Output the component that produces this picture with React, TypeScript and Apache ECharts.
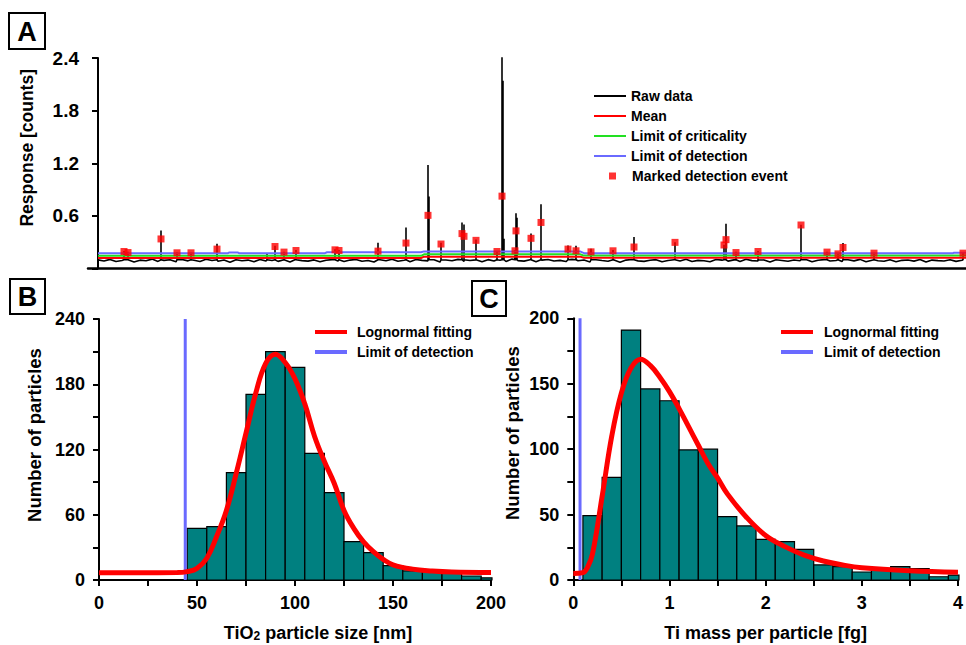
import React, { useEffect, useRef } from 'react';
import * as echarts from 'echarts';

const FONT = '"Liberation Sans", Arial, Helvetica, sans-serif';

// ---------- Panel A: time trace ----------
const rawNoise = [
  0.098, 0.085, 0.104, 0.079, 0.092, 0.101, 0.074, 0.095, 0.088, 0.107,
  0.081, 0.093, 0.099, 0.076, 0.102, 0.087, 0.094, 0.080, 0.106, 0.091,
  0.083, 0.097, 0.072, 0.100, 0.089, 0.096, 0.078, 0.103, 0.086, 0.092,
  0.081, 0.099, 0.075, 0.105, 0.090, 0.084, 0.098, 0.077, 0.094, 0.101,
  0.086, 0.079, 0.096, 0.103, 0.082, 0.091, 0.074, 0.099, 0.088, 0.106,
  0.083, 0.095, 0.078, 0.102, 0.093, 0.087, 0.100, 0.073, 0.097, 0.089,
  0.104, 0.081, 0.092, 0.098, 0.076, 0.101, 0.085, 0.094, 0.080, 0.107,
  0.090, 0.084, 0.099, 0.077, 0.095, 0.102, 0.086, 0.093, 0.079, 0.104,
  0.088, 0.097, 0.075, 0.100, 0.091, 0.083, 0.098, 0.072, 0.096, 0.103,
  0.087, 0.081, 0.094, 0.101, 0.078, 0.092, 0.099, 0.085, 0.105, 0.080,
  0.093, 0.089, 0.076, 0.102, 0.095, 0.084, 0.098, 0.079, 0.106, 0.090,
  0.086, 0.097, 0.074, 0.100, 0.092, 0.082, 0.096, 0.088, 0.103, 0.077,
  0.094, 0.101, 0.085, 0.091, 0.080, 0.099, 0.087, 0.104, 0.076, 0.095,
  0.089, 0.083, 0.100, 0.078, 0.093, 0.097, 0.084, 0.102, 0.073, 0.096,
  0.090, 0.086, 0.099, 0.081, 0.094, 0.088, 0.101, 0.079, 0.097, 0.092,
];
const rawStep = 6;
const rawEnd = 868;
const spikeBase = 0.1;
const spikeT = [26, 30, 63, 79, 93, 119, 169, 177, 186, 198, 237, 241, 280, 308, 330, 331, 343, 364, 366, 378, 399, 404, 405, 406, 417, 418, 419, 433, 443, 470, 478, 493, 515, 536, 577, 626, 628, 638, 660, 703, 729, 740, 745, 776, 865];
const spikePeak = [0.2, 0.19, 0.433, 0.185, 0.18, 0.283, 0.17, 0.26, 0.19, 0.21, 0.22, 0.21, 0.294, 0.467, 1.18, 0.82, 0.294, 0.525, 0.502, 0.33, 0.2, 2.416, 2.14, 0.34, 0.21, 0.629, 0.58, 0.398, 0.732, 0.263, 0.26, 0.225, 0.21, 0.36, 0.3, 0.27, 0.51, 0.19, 0.2, 0.5, 0.19, 0.17, 0.29, 0.18, 0.18];
const eventT = [26, 30, 63, 79, 93, 119, 177, 186, 198, 237, 241, 280, 308, 330, 343, 364, 366, 378, 399, 404, 417, 418, 433, 443, 470, 478, 493, 515, 536, 577, 626, 628, 638, 660, 703, 729, 740, 745, 776, 865];
const eventV = [0.194, 0.182, 0.337, 0.179, 0.179, 0.221, 0.251, 0.187, 0.205, 0.213, 0.205, 0.198, 0.29, 0.606, 0.279, 0.398, 0.367, 0.321, 0.194, 0.825, 0.202, 0.429, 0.344, 0.525, 0.221, 0.202, 0.19, 0.202, 0.245, 0.298, 0.268, 0.329, 0.182, 0.194, 0.496, 0.187, 0.167, 0.24, 0.175, 0.175];
const meanT = [0, 323, 326, 482, 486, 868];
const meanV = [0.12, 0.12, 0.135, 0.135, 0.122, 0.122];
const lcT = [0, 323, 326, 482, 486, 868];
const lcV = [0.145, 0.145, 0.162, 0.162, 0.147, 0.147];
const ldT = [0, 130, 131, 140, 141, 227, 229, 323, 326, 482, 486, 855, 856, 868];
const ldV = [0.175, 0.175, 0.182, 0.182, 0.175, 0.175, 0.185, 0.185, 0.195, 0.195, 0.175, 0.175, 0.18, 0.18];

// ---------- Panel B: particle size histogram ----------
const sizeBinStart = [45, 55, 65, 75, 85, 95, 105, 115, 125, 135, 145, 155, 165, 175, 185, 195];
const sizeBinWidth = 10;
const sizeCounts = [47.5, 49, 98.7, 170.7, 210, 195.6, 116.5, 80.3, 35.2, 25.1, 13.2, 8.3, 7.7, 6, 3.7, 2];
const sizeFitX = [0, 20, 40, 45, 50, 55, 60, 65, 70, 75, 80, 85, 90, 95, 100, 105, 110, 115, 120, 125, 130, 135, 140, 145, 150, 160, 170, 180, 200];
const sizeFitY = [6.7, 6.7, 6.8, 7.7, 10.7, 20, 40, 64, 98, 135, 172, 199, 207.5, 200, 185, 162, 132, 109, 89, 64, 47.5, 35, 26, 19, 14, 10, 8.3, 7.4, 7];
const sizeLOD = 44;

// ---------- Panel C: Ti mass histogram ----------
const massBinStart = [0.1, 0.3, 0.5, 0.7, 0.9, 1.1, 1.3, 1.5, 1.7, 1.9, 2.1, 2.3, 2.5, 2.7, 2.9, 3.1, 3.3, 3.5, 3.7, 3.9];
const massBinWidth = 0.2;
const massCounts = [49.2, 78.5, 191, 146, 137, 99.4, 100, 48.4, 41.3, 31, 29.3, 23.4, 11.5, 10.2, 6.1, 7.6, 10.2, 8.7, 2.5, 3.8];
const massFitX = [0, 0.1, 0.15, 0.2, 0.3, 0.4, 0.5, 0.6, 0.7, 0.8, 0.9, 1.0, 1.1, 1.2, 1.3, 1.4, 1.5, 1.6, 1.8, 2.0, 2.2, 2.4, 2.6, 2.8, 3.0, 3.5, 4.0];
const massFitY = [5, 5.6, 10, 20, 64, 110, 143, 162, 168.7, 164, 155, 144, 131, 117, 103, 89, 78, 66, 48, 34, 25.5, 19, 14.5, 11.5, 9.4, 7.1, 5.9];
const massLOD = 0.07;

const BLUE = '#6a6aff';
const RED = '#ff0000';
const GREEN = '#22e022';

function buildRaw() {
  const groups: { t: number; pts: number[][] }[] = [];
  rawNoise.forEach((v, i) => {
    const t = i * rawStep;
    if (t <= rawEnd) groups.push({ t, pts: [[t, v]] });
  });
  spikeT.forEach((t, i) => {
    groups.push({ t, pts: [[t, spikeBase], [t, spikePeak[i]], [t, spikeBase]] });
  });
  groups.sort((a, b) => a.t - b.t);
  const out: number[][] = [];
  groups.forEach((g) => g.pts.forEach((p) => out.push(p)));
  return out;
}

const pairs = (xs: number[], ys: number[]) => xs.map((x, i) => [x, ys[i]]);

const histRender = (params: any, api: any) => {
  const start = api.value(0);
  const end = api.value(1);
  const count = api.value(2);
  const tl = api.coord([start, count]);
  const br = api.coord([end, 0]);
  const cs = params.coordSys;
  const rect = echarts.graphic.clipRectByRect(
    { x: tl[0], y: tl[1], width: br[0] - tl[0], height: br[1] - tl[1] },
    { x: cs.x, y: cs.y, width: cs.width + 1, height: cs.height }
  );
  if (!rect) return null;
  return {
    type: 'rect',
    shape: rect,
    style: { fill: '#008080', stroke: '#000', lineWidth: 1.2 },
  };
};

const axisLineStyle = { color: '#000', width: 2 };
const labelStyle = { color: '#000', fontSize: 18, fontWeight: 'bold' as const, fontFamily: FONT };
const nameStyleBase = { color: '#000', fontSize: 18, fontWeight: 'bold' as const, fontFamily: FONT };
const legendText = { color: '#000', fontSize: 14, fontWeight: 'bold' as const, fontFamily: FONT, lineHeight: 20 };

function histAxes(gridIndex: number, max: number, interval: number) {
  return {
    gridIndex,
    type: 'value',
    min: 0,
    max,
    interval,
    axisLine: { show: true, lineStyle: axisLineStyle },
    axisTick: { show: true, length: 6, lineStyle: { color: '#000', width: 2 } },
    minorTick: { show: true, splitNumber: 2, length: 6, lineStyle: { color: '#000', width: 2 } },
    splitLine: { show: false },
    axisLabel: { ...labelStyle, margin: 14 },
  };
}

export default function App() {
  const ref = useRef<HTMLDivElement>(null);
  useEffect(() => {
    if (!ref.current) return;
    const chart = echarts.init(ref.current, undefined, { renderer: 'svg' });
    const option: any = {
      animation: false,
      backgroundColor: '#fff',
      textStyle: { fontFamily: FONT },
      grid: [
        { left: 88, top: 58, width: 878, height: 210.5, containLabel: false },
        { left: 99, top: 319, width: 392, height: 261, containLabel: false },
        { left: 573.3, top: 318.3, width: 391.6, height: 261.7, containLabel: false },
      ],
      xAxis: [
        {
          gridIndex: 0,
          type: 'value',
          min: -10,
          max: rawEnd,
          axisLine: { show: true, lineStyle: { color: '#000', width: 2.5 } },
          axisTick: { show: false },
          axisLabel: { show: false },
          splitLine: { show: false },
        },
        {
          ...histAxes(1, 200, 50),
          name: 'TiO{sub|2} particle size [nm]',
          nameLocation: 'middle',
          nameGap: 44,
          nameTextStyle: {
            ...nameStyleBase,
            padding: [0, 0, 0, 46],
            rich: {
              sub: { fontSize: 12, fontWeight: 'bold', color: '#000', fontFamily: FONT, verticalAlign: 'bottom' },
            },
          },
        },
        {
          ...histAxes(2, 4, 1),
          name: 'Ti mass per particle [fg]',
          nameLocation: 'middle',
          nameGap: 44,
          nameTextStyle: { ...nameStyleBase },
        },
      ],
      yAxis: [
        {
          gridIndex: 0,
          type: 'value',
          min: 0,
          max: 2.4,
          interval: 0.6,
          axisLine: { show: true, onZero: true, lineStyle: axisLineStyle },
          axisTick: { show: true, length: 6, lineStyle: { color: '#000', width: 2 } },
          splitLine: { show: false },
          axisLabel: {
            ...labelStyle,
            fontSize: 19,
            margin: 9,
            formatter: (v: number) => (v === 0 ? '' : v.toFixed(1)),
          },
          name: 'Response [counts]',
          nameLocation: 'middle',
          nameGap: 52,
          nameTextStyle: { ...nameStyleBase, fontSize: 17.5, padding: [0, 0, 0, 31] },
        },
        {
          ...histAxes(1, 240, 60),
          axisLabel: { ...labelStyle, margin: 14 },
          name: 'Number of particles',
          nameLocation: 'middle',
          nameGap: 55,
          nameTextStyle: { ...nameStyleBase, fontSize: 18.5, padding: [0, 0, 0, 29] },
        },
        {
          ...histAxes(2, 200, 50),
          axisLabel: { ...labelStyle, margin: 14 },
          name: 'Number of particles',
          nameLocation: 'middle',
          nameGap: 51,
          nameTextStyle: { ...nameStyleBase, fontSize: 18.5, padding: [0, 0, 0, 32] },
        },
      ],
      legend: [
        {
          data: ['Raw data', 'Mean', 'Limit of criticality', 'Limit of detection'],
          orient: 'vertical',
          left: 594,
          top: 86,
          padding: 0,
          itemGap: 0,
          itemWidth: 32,
          itemHeight: 2,
          icon: 'rect',
          selectedMode: false,
          textStyle: legendText,
        },
        {
          data: ['Marked detection event'],
          orient: 'vertical',
          left: 609,
          top: 166,
          padding: 0,
          itemGap: 0,
          itemWidth: 7,
          itemHeight: 7,
          icon: 'rect',
          selectedMode: false,
          textStyle: { ...legendText, padding: [0, 0, 0, 11] },
        },
        {
          data: ['Lognormal fitting', 'Limit of detection'],
          orient: 'vertical',
          left: 315,
          top: 322,
          padding: 0,
          itemGap: 0,
          itemWidth: 32,
          itemHeight: 4,
          icon: 'rect',
          selectedMode: false,
          textStyle: { ...legendText, padding: [0, 0, 0, 5] },
        },
        {
          data: ['Lognormal fitting', 'Limit of detection'],
          orient: 'vertical',
          left: 781,
          top: 322,
          padding: 0,
          itemGap: 0,
          itemWidth: 32,
          itemHeight: 4,
          icon: 'rect',
          selectedMode: false,
          textStyle: { ...legendText, padding: [0, 0, 0, 6] },
        },
      ],
      series: [
        {
          name: 'Raw data',
          type: 'line',
          xAxisIndex: 0,
          yAxisIndex: 0,
          data: buildRaw(),
          symbol: 'none',
          color: '#000',
          lineStyle: { color: '#000', width: 1.6 },
          z: 2,
        },
        {
          name: 'Mean',
          type: 'line',
          xAxisIndex: 0,
          yAxisIndex: 0,
          data: pairs(meanT, meanV),
          symbol: 'none',
          color: RED,
          lineStyle: { color: RED, width: 2 },
          z: 3,
        },
        {
          name: 'Limit of criticality',
          type: 'line',
          xAxisIndex: 0,
          yAxisIndex: 0,
          data: pairs(lcT, lcV),
          symbol: 'none',
          color: GREEN,
          lineStyle: { color: GREEN, width: 2 },
          z: 3,
        },
        {
          name: 'Limit of detection',
          type: 'line',
          xAxisIndex: 0,
          yAxisIndex: 0,
          data: pairs(ldT, ldV),
          symbol: 'none',
          color: BLUE,
          lineStyle: { color: BLUE, width: 2 },
          z: 3,
        },
        {
          name: 'Marked detection event',
          type: 'scatter',
          xAxisIndex: 0,
          yAxisIndex: 0,
          data: pairs(eventT, eventV),
          symbol: 'rect',
          symbolSize: 7,
          color: RED,
          itemStyle: { color: RED },
          z: 4,
        },
        // Panel B
        {
          name: 'Size histogram',
          type: 'custom',
          xAxisIndex: 1,
          yAxisIndex: 1,
          renderItem: histRender,
          encode: { x: [0, 1], y: 2 },
          data: sizeBinStart.map((s, i) => [s, s + sizeBinWidth, sizeCounts[i]]),
          z: 2,
        },
        {
          name: 'Lognormal fitting',
          type: 'line',
          xAxisIndex: 1,
          yAxisIndex: 1,
          data: pairs(sizeFitX, sizeFitY),
          smooth: 0.4,
          symbol: 'none',
          color: RED,
          lineStyle: { color: RED, width: 5 },
          z: 4,
        },
        {
          name: 'Limit of detection',
          type: 'line',
          xAxisIndex: 1,
          yAxisIndex: 1,
          data: [[sizeLOD, 0], [sizeLOD, 240]],
          symbol: 'none',
          color: BLUE,
          lineStyle: { color: BLUE, width: 3 },
          z: 3,
        },
        // Panel C
        {
          name: 'Mass histogram',
          type: 'custom',
          xAxisIndex: 2,
          yAxisIndex: 2,
          renderItem: histRender,
          encode: { x: [0, 1], y: 2 },
          data: massBinStart.map((s, i) => [s, s + massBinWidth, massCounts[i]]),
          z: 2,
        },
        {
          name: 'Lognormal fitting',
          type: 'line',
          xAxisIndex: 2,
          yAxisIndex: 2,
          data: pairs(massFitX, massFitY),
          smooth: 0.4,
          symbol: 'none',
          color: RED,
          lineStyle: { color: RED, width: 5 },
          z: 4,
        },
        {
          name: 'Limit of detection',
          type: 'line',
          xAxisIndex: 2,
          yAxisIndex: 2,
          data: [[massLOD, 0], [massLOD, 200]],
          symbol: 'none',
          color: BLUE,
          lineStyle: { color: BLUE, width: 3 },
          z: 3,
        },
      ],
      graphic: [
        { type: 'rect', shape: { x: 9, y: 13, width: 36, height: 36 }, style: { fill: '#fff', stroke: '#000', lineWidth: 2 } },
        { type: 'text', x: 27, y: 32, style: { text: 'A', fontSize: 27, fontWeight: 'bold', fontFamily: FONT, fill: '#000', align: 'center', verticalAlign: 'middle' } },
        { type: 'rect', shape: { x: 10, y: 279, width: 35, height: 35 }, style: { fill: '#fff', stroke: '#000', lineWidth: 2 } },
        { type: 'text', x: 27.5, y: 297, style: { text: 'B', fontSize: 27, fontWeight: 'bold', fontFamily: FONT, fill: '#000', align: 'center', verticalAlign: 'middle' } },
        { type: 'rect', shape: { x: 472, y: 281, width: 34, height: 35 }, style: { fill: '#fff', stroke: '#000', lineWidth: 2 } },
        { type: 'text', x: 489, y: 299, style: { text: 'C', fontSize: 27, fontWeight: 'bold', fontFamily: FONT, fill: '#000', align: 'center', verticalAlign: 'middle' } },
      ],
    };
    chart.setOption(option);
    return () => chart.dispose();
  }, []);
  return (
    <div
      ref={ref}
      style={{ position: 'fixed', left: 0, top: 0, width: 966, height: 645, background: '#fff' }}
    />
  );
}
